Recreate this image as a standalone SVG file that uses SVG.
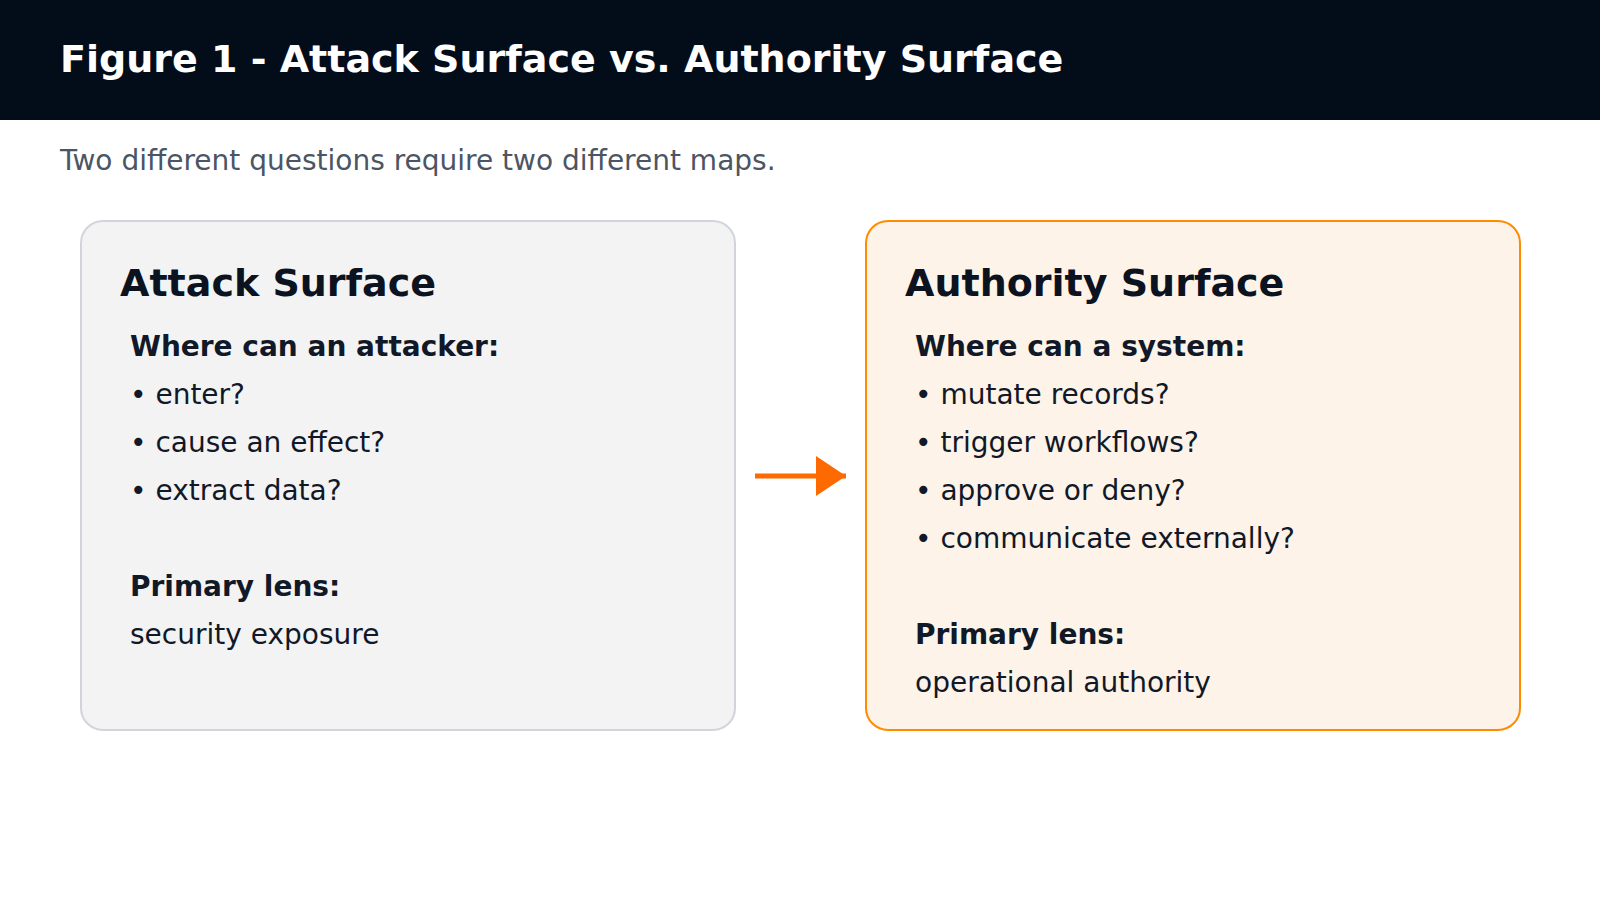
<svg xmlns="http://www.w3.org/2000/svg" width="1600" height="900" viewBox="0 0 1600 900">
<defs>
<style>
text{font-family:"DejaVu Sans","Noto Sans",sans-serif}
.title{font-size:38px;font-weight:bold;fill:#ffffff}
.sub{font-size:28px;fill:#4b5563}
.h{font-size:38px;font-weight:bold;fill:#0b1220}
.b{font-size:28px;font-weight:bold;fill:#111827}
.t{font-size:28px;fill:#111827}
.box1{fill:#f3f3f3;stroke:#d1d5db;stroke-width:2}
.box2{fill:#fdf3e8;stroke:#ff8c00;stroke-width:2}
</style>
<marker id="ah" viewBox="0 0 30 40" refX="30" refY="20" markerWidth="30" markerHeight="40" markerUnits="userSpaceOnUse" orient="auto">
<path d="M0,0 L30,20 L0,40 Z" fill="#ff6a00"/>
</marker>
</defs>
<rect x="0" y="0" width="1600" height="900" fill="#ffffff"/>
<g id="header">
<rect x="0" y="0" width="1600" height="120" fill="#030d1a"/>
<text class="title" x="60" y="72">Figure 1 - Attack Surface vs. Authority Surface</text>
<text class="sub" x="60" y="170">Two different questions require two different maps.</text>
</g>
<g id="attack-surface">
<rect class="box1" x="81" y="221" width="654" height="509" rx="22"/>
<text class="h" x="120" y="296">Attack Surface</text>
<text class="b" x="130" y="356">Where can an attacker:</text>
<text class="t" x="130" y="404">• enter?</text>
<text class="t" x="130" y="452">• cause an effect?</text>
<text class="t" x="130" y="500">• extract data?</text>
<text class="b" x="130" y="596">Primary lens:</text>
<text class="t" x="130" y="644">security exposure</text>
</g>
<g id="authority-surface">
<rect class="box2" x="866" y="221" width="654" height="509" rx="22"/>
<text class="h" x="905" y="296">Authority Surface</text>
<text class="b" x="915" y="356">Where can a system:</text>
<text class="t" x="915" y="404">• mutate records?</text>
<text class="t" x="915" y="452">• trigger workflows?</text>
<text class="t" x="915" y="500">• approve or deny?</text>
<text class="t" x="915" y="548">• communicate externally?</text>
<text class="b" x="915" y="644">Primary lens:</text>
<text class="t" x="915" y="692">operational authority</text>
</g>
<g id="connectors">
<line x1="755" y1="476" x2="846" y2="476" stroke="#ff6a00" stroke-width="5" marker-end="url(#ah)"/>
</g>
</svg>
